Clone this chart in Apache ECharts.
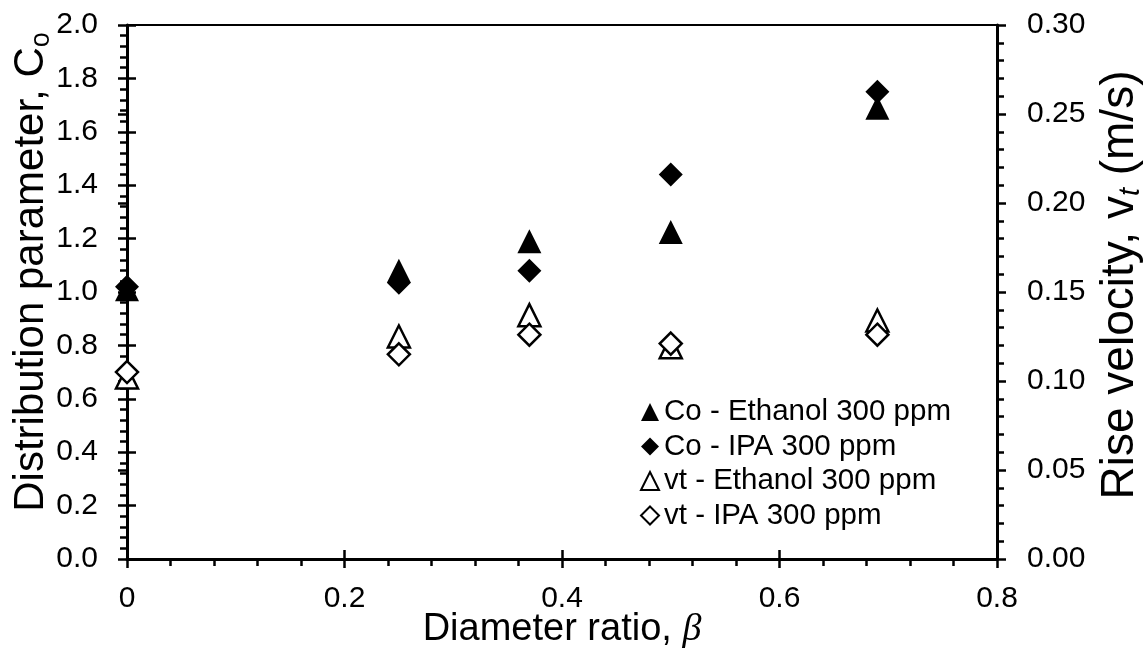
<!DOCTYPE html>
<html>
<head>
<meta charset="utf-8">
<script src="https://cdn.jsdelivr.net/npm/echarts@6/dist/echarts.min.js"></script>
<style>
html,body{margin:0;padding:0;background:#fff;}
#chart{width:1147px;height:656px;}
</style>
</head>
<body>
<div id="chart"></div>
<script>
// ---- data ----
const beta = [0, 0.25, 0.37, 0.5, 0.69];
const coEthanol = [1.01, 1.08, 1.19, 1.225, 1.69];
const coIPA = [1.02, 1.035, 1.08, 1.44, 1.75];
const vtEthanol = [0.102, 0.125, 0.137, 0.119, 0.134];
const vtIPA = [0.105, 0.115, 0.126, 0.121, 0.126];
const seriesNames = ['Co - Ethanol 300 ppm', 'Co - IPA 300 ppm', 'vt - Ethanol 300 ppm', 'vt - IPA 300 ppm'];

const FONT = 'Liberation Sans';
const tickFS = 30;
const black = '#000';

function pairs(xs, ys) { return xs.map((x, i) => [x, ys[i]]); }

const chart = echarts.init(document.getElementById('chart'), null, {renderer: 'canvas'});

const baseLabel = {color: black, fontFamily: FONT, fontSize: tickFS};

const option = {
  animation: false,
  backgroundColor: '#fff',
  grid: {left: 127, right: 150, top: 25, bottom: 97, containLabel: false, outerBoundsMode: 'none'},
  legend: {
    orient: 'vertical',
    left: 635,
    top: 392,
    itemWidth: 18,
    itemHeight: 18,
    itemGap: 4.5,
    textStyle: {color: black, fontFamily: FONT, fontSize: 29.5, lineHeight: 29.5},
    data: seriesNames
  },
  xAxis: [
    {
      type: 'value', position: 'bottom', min: 0, max: 0.8, interval: 0.2,
      name: 'Diameter ratio, {it|β}', nameLocation: 'middle', nameGap: 52, nameMoveOverlap: false,
      nameTextStyle: {color: black, fontFamily: FONT, fontSize: 38,
        rich: {it: {fontFamily: 'Liberation Serif', fontStyle: 'italic', fontSize: 38, color: black}}},
      axisLine: {show: true, onZero: false, lineStyle: {color: black, width: 3}},
      axisTick: {show: true, inside: false, length: 9, lineStyle: {color: black, width: 2.5}},
      minorTick: {show: true, splitNumber: 5, length: 7, lineStyle: {color: black, width: 2.5}},
      axisLabel: Object.assign({margin: 25, formatter: v => v === 0 ? '0' : v.toFixed(1)}, baseLabel),
      splitLine: {show: false}
    },
    {
      type: 'value', position: 'bottom', min: 0, max: 0.8, interval: 0.2,
      axisLine: {show: false},
      axisTick: {show: true, inside: true, length: 9, lineStyle: {color: black, width: 2.5}},
      axisLabel: {show: false}, splitLine: {show: false}
    },
    {
      type: 'value', position: 'top', min: 0, max: 0.8, interval: 0.2,
      axisLine: {show: true, onZero: false, lineStyle: {color: black, width: 2}},
      axisTick: {show: false}, axisLabel: {show: false}, splitLine: {show: false}
    }
  ],
  yAxis: [
    {
      type: 'value', position: 'left', min: 0, max: 2, interval: 0.2,
      name: 'Distribution parameter, C{sub|o}', nameLocation: 'middle', nameGap: 72, nameMoveOverlap: false,
      nameTextStyle: {color: black, fontFamily: FONT, fontSize: 42, lineHeight: 48, padding: [0, 0, 0, 40],
        rich: {sub: {fontFamily: FONT, fontSize: 27, color: black, verticalAlign: 'bottom', lineHeight: 48}}},
      axisLine: {show: true, onZero: false, lineStyle: {color: black, width: 3}},
      axisTick: {show: true, inside: false, length: 9, lineStyle: {color: black, width: 2.5}},
      minorTick: {show: true, splitNumber: 5, length: 7, lineStyle: {color: black, width: 2.5}},
      axisLabel: Object.assign({margin: 29, formatter: v => v.toFixed(1)}, baseLabel),
      splitLine: {show: false}
    },
    {
      type: 'value', position: 'left', min: 0, max: 2, interval: 0.2,
      axisLine: {show: false},
      axisTick: {show: true, inside: true, length: 9, lineStyle: {color: black, width: 2.5}},
      axisLabel: {show: false}, splitLine: {show: false}
    },
    {
      type: 'value', position: 'right', min: 0, max: 0.3, interval: 0.05,
      name: 'Rise velocity, v{subi|t} (m/s)', nameLocation: 'middle', nameGap: 98, nameRotate: 90, nameMoveOverlap: false,
      nameTextStyle: {color: black, fontFamily: FONT, fontSize: 46, lineHeight: 50, padding: [0, 0, 0, 14],
        rich: {subi: {fontFamily: FONT, fontStyle: 'italic', fontSize: 29, color: black, verticalAlign: 'bottom', lineHeight: 50}}},
      axisLine: {show: true, onZero: false, lineStyle: {color: black, width: 3}},
      axisTick: {show: true, inside: false, length: 9, lineStyle: {color: black, width: 2.5}},
      minorTick: {show: true, splitNumber: 5, length: 7, lineStyle: {color: black, width: 2.5}},
      axisLabel: Object.assign({margin: 30, formatter: v => v.toFixed(2)}, baseLabel),
      splitLine: {show: false}
    },
    {
      type: 'value', position: 'right', min: 0, max: 0.3, interval: 0.05,
      axisLine: {show: false},
      axisTick: {show: true, inside: true, length: 9, lineStyle: {color: black, width: 2.5}},
      axisLabel: {show: false}, splitLine: {show: false}
    }
  ],
  series: [
    {
      name: seriesNames[0], type: 'scatter', xAxisIndex: 0, yAxisIndex: 0,
      symbol: 'triangle', symbolSize: 24,
      itemStyle: {color: black, borderColor: black, borderWidth: 0, opacity: 1},
      data: pairs(beta, coEthanol)
    },
    {
      name: seriesNames[1], type: 'scatter', xAxisIndex: 0, yAxisIndex: 0,
      symbol: 'diamond', symbolSize: 24,
      itemStyle: {color: black, borderColor: black, borderWidth: 0, opacity: 1},
      data: pairs(beta, coIPA)
    },
    {
      name: seriesNames[2], type: 'scatter', xAxisIndex: 0, yAxisIndex: 2,
      symbol: 'triangle', symbolSize: 22,
      itemStyle: {color: '#fff', borderColor: black, borderWidth: 2.5, opacity: 1},
      data: pairs(beta, vtEthanol)
    },
    {
      name: seriesNames[3], type: 'scatter', xAxisIndex: 0, yAxisIndex: 2,
      symbol: 'diamond', symbolSize: 22,
      itemStyle: {color: '#fff', borderColor: black, borderWidth: 2.5, opacity: 1},
      data: pairs(beta, vtIPA)
    }
  ]
};
chart.setOption(option);
</script>
</body>
</html>
